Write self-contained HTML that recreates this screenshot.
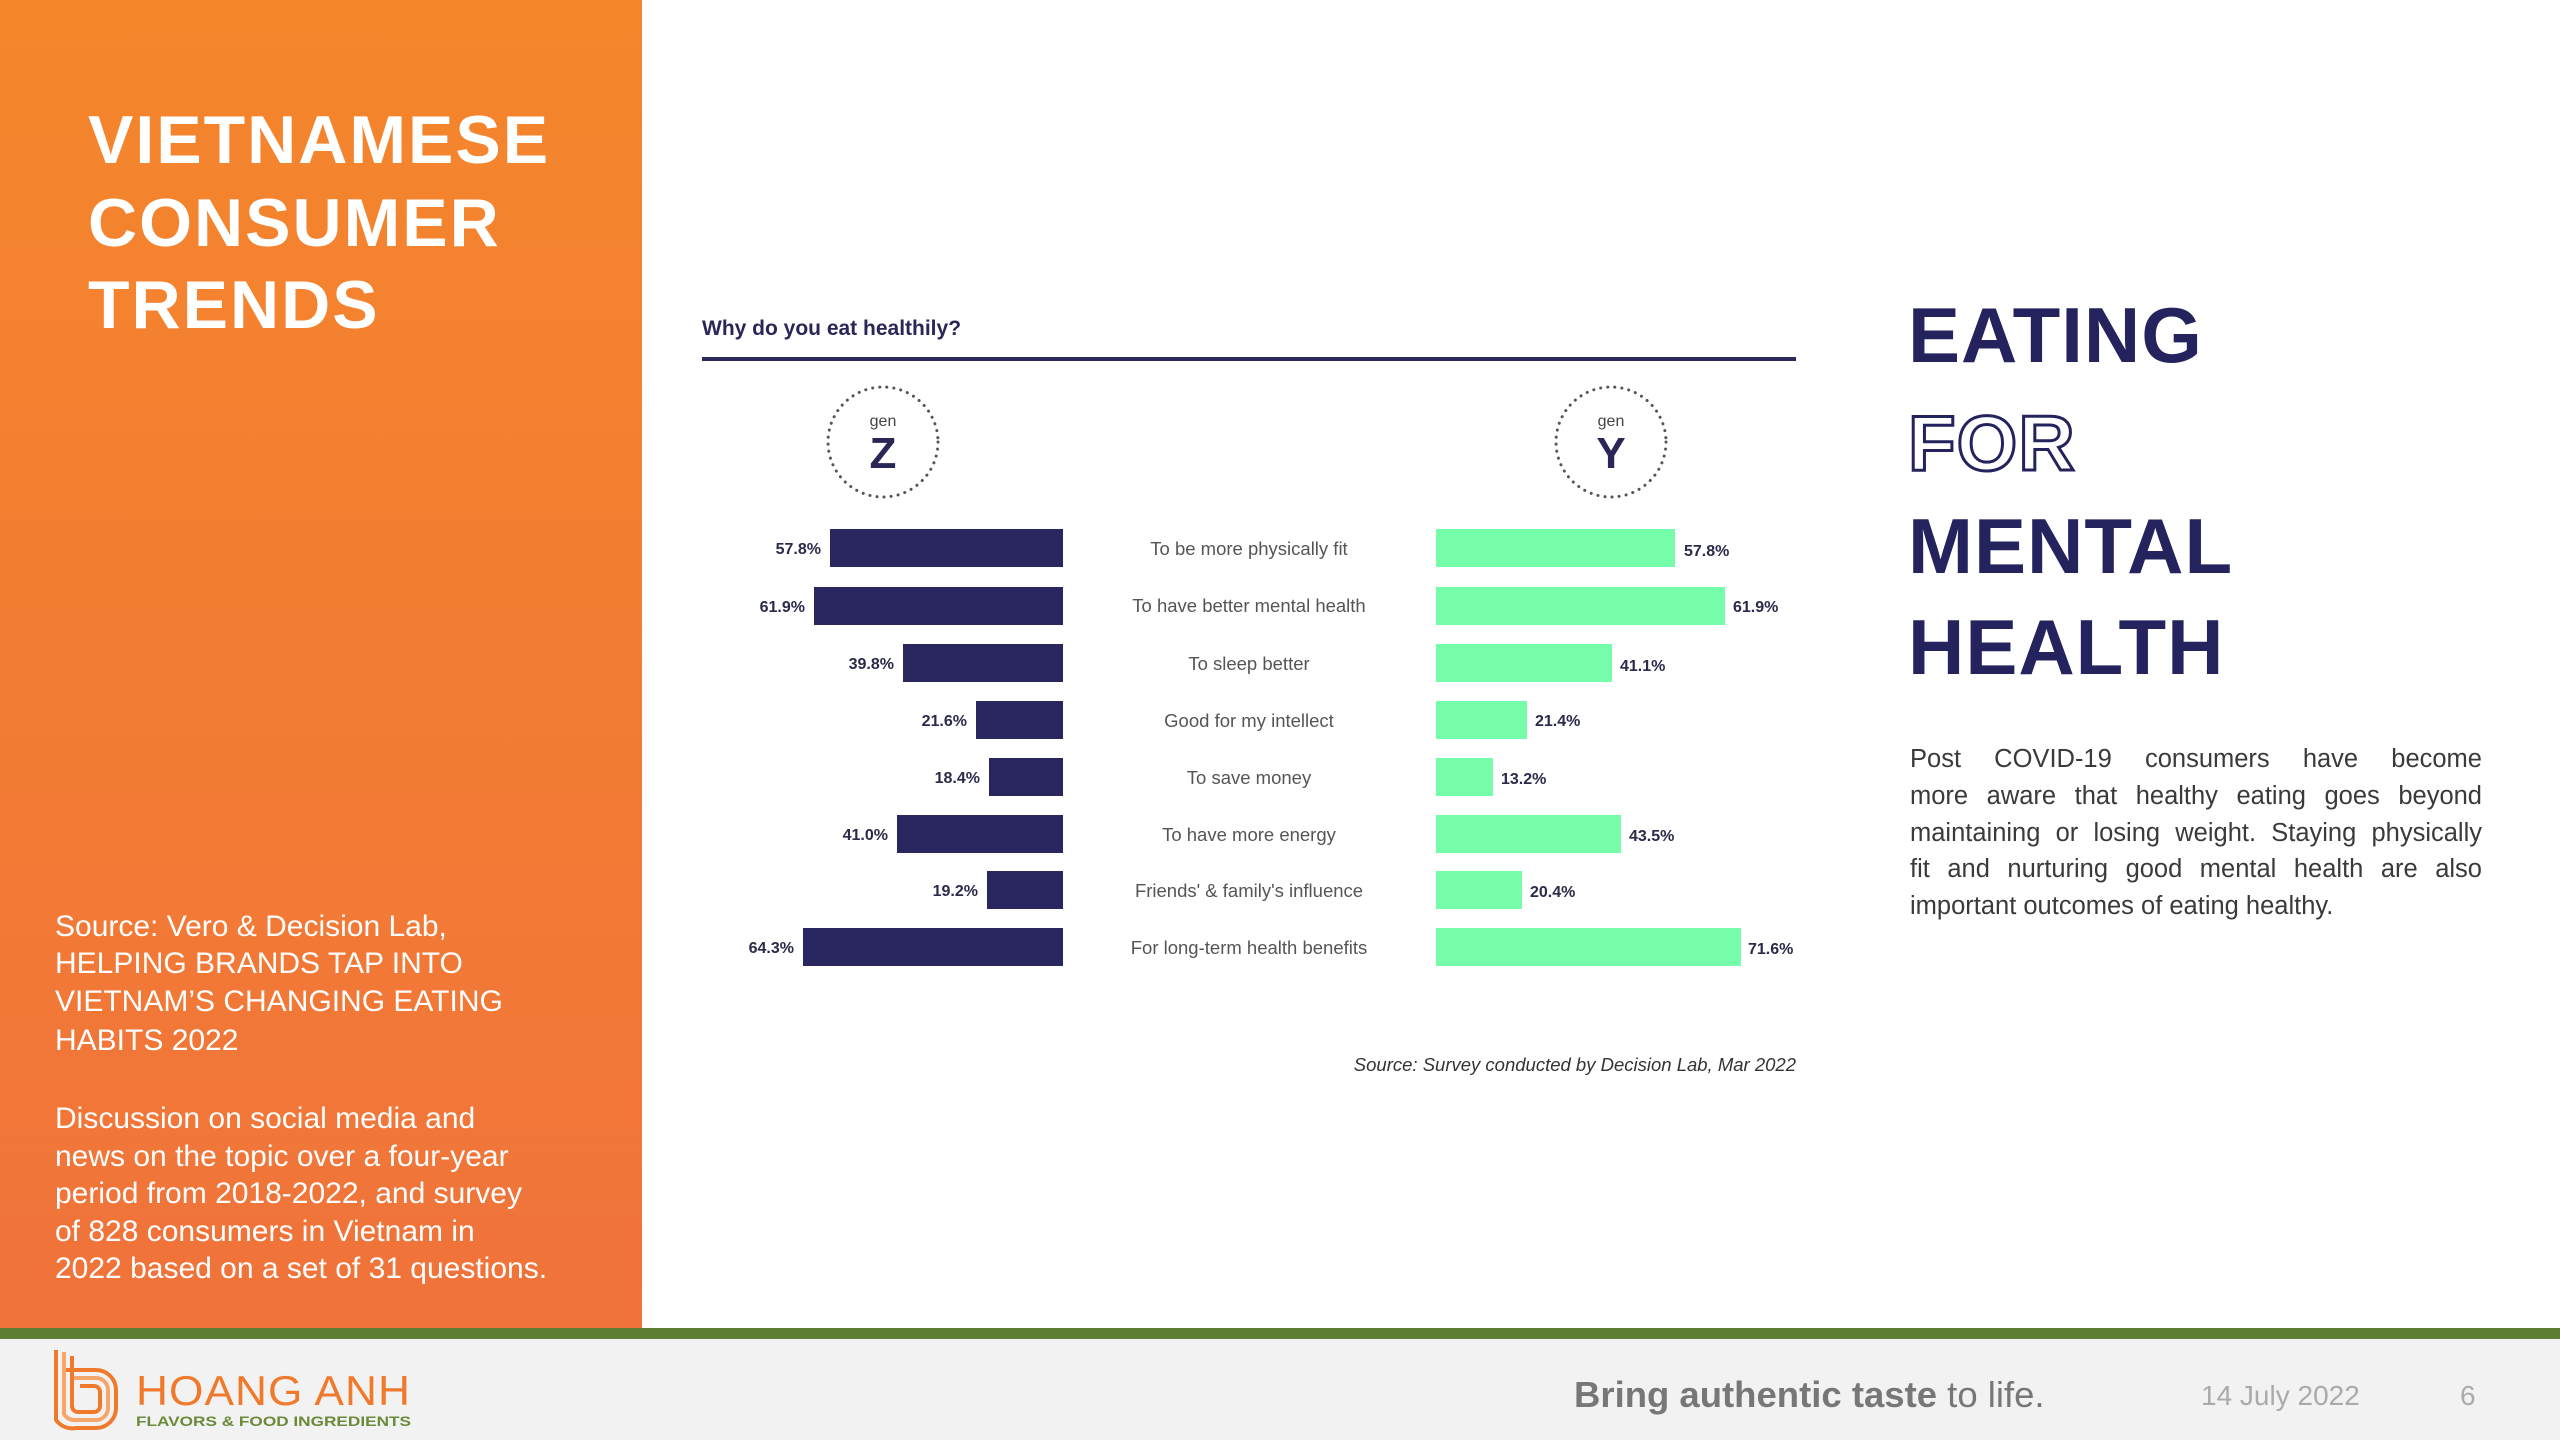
<!DOCTYPE html>
<html><head><meta charset="utf-8"><style>
html,body{margin:0;padding:0;width:2560px;height:1440px;overflow:hidden;background:#fff;font-family:"Liberation Sans",sans-serif}
.pl{position:absolute;left:1910px;width:572px;font-size:25.5px;line-height:37px;color:#3a3a3a;text-align:justify;text-align-last:justify;white-space:nowrap}
</style></head><body>
<svg width="2560" height="1440" xmlns="http://www.w3.org/2000/svg" style="position:absolute;left:0;top:0" font-family="Liberation Sans, sans-serif">
<defs><linearGradient id="og" x1="0" y1="0" x2="0" y2="1"><stop offset="0" stop-color="#F5862B"/><stop offset="1" stop-color="#F0733B"/></linearGradient></defs>
<rect x="0" y="0" width="642" height="1328" fill="url(#og)"/>
<rect x="0" y="1328" width="2560" height="11" fill="#5F7E35"/>
<rect x="0" y="1339" width="2560" height="101" fill="#F2F2F2"/>
<g fill="#fff" font-weight="bold" font-size="68" letter-spacing="2">
<text x="88" y="163">VIETNAMESE</text><text x="88" y="246">CONSUMER</text><text x="88" y="328">TRENDS</text></g>
<g fill="#fff" font-size="30">
<text x="55" y="936">Source: Vero &amp; Decision Lab,</text>
<text x="55" y="973">HELPING BRANDS TAP INTO</text>
<text x="55" y="1011">VIETNAM’S CHANGING EATING</text>
<text x="55" y="1050">HABITS 2022</text>
<text x="55" y="1128">Discussion on social media and</text>
<text x="55" y="1166">news on the topic over a four-year</text>
<text x="55" y="1203">period from 2018-2022, and survey</text>
<text x="55" y="1241">of 828 consumers in Vietnam in</text>
<text x="55" y="1278">2022 based on a set of 31 questions.</text></g>
<text x="702" y="335" font-size="21" font-weight="bold" fill="#2a2656">Why do you eat healthily?</text>
<rect x="702" y="357" width="1094" height="4" fill="#2b2a5a"/>
<g fill="none" stroke="#555" stroke-width="3" stroke-dasharray="0.1 7" stroke-linecap="round">
<circle cx="883" cy="442" r="55"/><circle cx="1611" cy="442" r="55"/></g>
<g text-anchor="middle" fill="#2a2656">
<text x="883" y="426" font-size="16" fill="#444">gen</text><text x="883" y="468" font-size="44" font-weight="bold">Z</text>
<text x="1611" y="426" font-size="16" fill="#444">gen</text><text x="1611" y="468" font-size="44" font-weight="bold">Y</text></g>
<g fill="#2a2660">
<rect x="830" y="529" width="233" height="38"/><rect x="814" y="587" width="249" height="38"/>
<rect x="903" y="644" width="160" height="38"/><rect x="976" y="701" width="87" height="38"/>
<rect x="989" y="758" width="74" height="38"/><rect x="897" y="815" width="166" height="38"/>
<rect x="987" y="871" width="76" height="38"/><rect x="803" y="928" width="260" height="38"/></g>
<g fill="#75FDA9">
<rect x="1436" y="529" width="239" height="38"/><rect x="1436" y="587" width="289" height="38"/>
<rect x="1436" y="644" width="176" height="38"/><rect x="1436" y="701" width="91" height="38"/>
<rect x="1436" y="758" width="57" height="38"/><rect x="1436" y="815" width="185" height="38"/>
<rect x="1436" y="871" width="86" height="38"/><rect x="1436" y="928" width="305" height="38"/></g>
<g font-size="16" font-weight="bold" fill="#2a2a4a" text-anchor="end">
<text x="821" y="554">57.8%</text><text x="805" y="612">61.9%</text><text x="894" y="669">39.8%</text>
<text x="967" y="726">21.6%</text><text x="980" y="783">18.4%</text><text x="888" y="840">41.0%</text>
<text x="978" y="896">19.2%</text><text x="794" y="953">64.3%</text></g>
<g font-size="16" font-weight="bold" fill="#2a2a4a">
<text x="1684" y="556">57.8%</text><text x="1733" y="612">61.9%</text><text x="1620" y="671">41.1%</text>
<text x="1535" y="726">21.4%</text><text x="1501" y="784">13.2%</text><text x="1629" y="841">43.5%</text>
<text x="1530" y="897">20.4%</text><text x="1748" y="954">71.6%</text></g>
<g font-size="18.5" fill="#555" text-anchor="middle">
<text x="1249" y="555">To be more physically fit</text><text x="1249" y="612">To have better mental health</text>
<text x="1249" y="670">To sleep better</text><text x="1249" y="727">Good for my intellect</text>
<text x="1249" y="784">To save money</text><text x="1249" y="841">To have more energy</text>
<text x="1249" y="897">Friends' &amp; family's influence</text><text x="1249" y="954">For long-term health benefits</text></g>
<text x="1796" y="1071" font-size="18.5" font-style="italic" fill="#333" text-anchor="end">Source: Survey conducted by Decision Lab, Mar 2022</text>
<g font-size="78" font-weight="900" fill="#25235e" letter-spacing="1">
<text x="1908" y="362">EATING</text>
<text x="1908" y="470" fill="#fff" stroke="#25235e" stroke-width="3">FOR</text>
<text x="1908" y="573">MENTAL</text><text x="1908" y="674">HEALTH</text></g>
<g fill="none" stroke="#F07A2C" stroke-width="4">
<path d="M56 1350 V1420 A20 20 0 0 0 76 1428 H96 A20 20 0 0 0 116 1408 V1390 A20 20 0 0 0 96 1370 H66"/>
<path d="M64 1352 V1414 A12 12 0 0 0 76 1420 H96 A12 12 0 0 0 108 1408 V1390 A12 12 0 0 0 96 1378 H74" stroke="#F5A66A"/>
<path d="M72 1356 V1406 A6 6 0 0 0 78 1412 H94 A6 6 0 0 0 100 1406 V1392 A6 6 0 0 0 94 1386 H80"/></g>
<text x="136" y="1405" font-size="42" fill="#F07A2C" letter-spacing="1" textLength="275" lengthAdjust="spacingAndGlyphs">HOANG ANH</text>
<text x="136" y="1426" font-size="14" font-weight="bold" fill="#6B8A3A" textLength="275" lengthAdjust="spacingAndGlyphs">FLAVORS &amp; FOOD INGREDIENTS</text>
<text x="1574" y="1407" font-size="36.5" fill="#777"><tspan font-weight="bold">Bring authentic taste</tspan> to life.</text>
<text x="2201" y="1405" font-size="28" fill="#aaa">14 July 2022</text>
<text x="2460" y="1405" font-size="28" fill="#aaa">6</text>
</svg>
<div class="pl" style="top:741px">Post COVID-19 consumers have become</div>
<div class="pl" style="top:778px">more aware that healthy eating goes beyond</div>
<div class="pl" style="top:815px">maintaining or losing weight. Staying physically</div>
<div class="pl" style="top:851px">fit and nurturing good mental health are also</div>
<div class="pl" style="top:888px;text-align-last:left">important outcomes of eating healthy.</div>
</body></html>
